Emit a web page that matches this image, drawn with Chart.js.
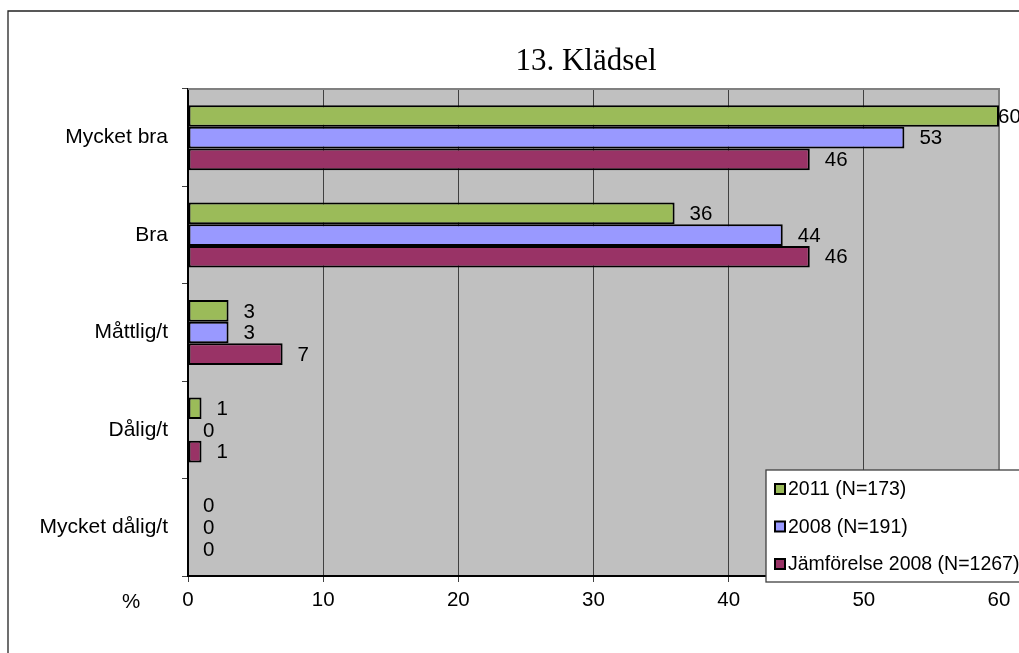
<!DOCTYPE html>
<html>
<head>
<meta charset="utf-8">
<title>13. Klädsel</title>
<script src="https://cdn.jsdelivr.net/npm/chart.js@4/dist/chart.umd.min.js"></script>
<style>
  html, body { margin: 0; padding: 0; background: #ffffff; overflow: hidden; }
  #wrap { position: relative; width: 1019px; height: 653px; }
  canvas { display: block; }
</style>
</head>
<body>
<div id="wrap"><canvas id="chart" width="1019" height="653"></canvas></div>
<script>
// Survey answers, percent of respondents
const categories = ['Mycket bra', 'Bra', 'Måttlig/t', 'Dålig/t', 'Mycket dålig/t'];
const values2011 = [60, 36, 3, 1, 0];
const values2008 = [53, 44, 3, 0, 0];
const valuesComparison = [46, 46, 7, 1, 0];
const seriesNames = ['2011 (N=173)', '2008 (N=191)', 'Jämförelse 2008 (N=1267)'];
const seriesColors = ['#9BBB59', '#9999FF', '#993366'];
const axisMin = 0;
const axisMax = 60;
const axisStep = 10;
const chartTitle = '13. Klädsel';
const axisUnit = '%';

const SANS = "'Liberation Sans', Arial, sans-serif";
const SERIF = "'Liberation Serif', 'Times New Roman', serif";

// Outer frame, plot background and plot border
const backdrop = {
  id: 'backdrop',
  beforeDraw(chart) {
    const { ctx, chartArea: a } = chart;
    ctx.save();
    ctx.fillStyle = '#ffffff';
    ctx.fillRect(0, 0, chart.width, chart.height);
    ctx.strokeStyle = '#222222';
    ctx.lineWidth = 1.3;
    ctx.beginPath();
    ctx.moveTo(8, chart.height + 5);
    ctx.lineTo(8, 11);
    ctx.lineTo(chart.width + 5, 11);
    ctx.stroke();
    ctx.fillStyle = '#C0C0C0';
    ctx.fillRect(a.left, a.top, a.right - a.left, a.bottom - a.top);
    ctx.restore();
  },
  beforeDatasetsDraw(chart) {
    const { ctx, chartArea: a } = chart;
    ctx.save();
    ctx.strokeStyle = '#808080';
    ctx.lineWidth = 2;
    ctx.beginPath();
    ctx.moveTo(a.left, a.top);
    ctx.lineTo(a.right, a.top);
    ctx.lineTo(a.right, a.bottom);
    ctx.stroke();
    ctx.restore();
  }
};

// Value labels next to each bar, title, unit label and legend box
const annotations = {
  id: 'annotations',
  afterDatasetsDraw(chart) {
    const { ctx, chartArea: a } = chart;
    ctx.save();
    ctx.font = '20.5px ' + SANS;
    ctx.fillStyle = '#000000';
    ctx.textAlign = 'left';
    ctx.textBaseline = 'middle';
    chart.data.datasets.forEach((ds, i) => {
      const meta = chart.getDatasetMeta(i);
      meta.data.forEach((bar, j) => {
        const x = Math.min(bar.x + 15, a.right - 1);
        ctx.fillText(String(ds.data[j]), x, bar.y + 1);
      });
    });
    ctx.restore();
  },
  afterDraw(chart) {
    const { ctx } = chart;
    ctx.save();
    // title
    ctx.font = '31px ' + SERIF;
    ctx.fillStyle = '#000000';
    ctx.textAlign = 'center';
    ctx.textBaseline = 'alphabetic';
    ctx.fillText(chartTitle, 586, 70);
    // unit
    ctx.font = '20.5px ' + SANS;
    ctx.textBaseline = 'middle';
    ctx.fillText(axisUnit, 131, 602);
    // legend
    const lx = 766, ly = 470, lw = 270, lh = 112;
    ctx.fillStyle = '#ffffff';
    ctx.fillRect(lx, ly, lw, lh);
    ctx.strokeStyle = '#404040';
    ctx.lineWidth = 1.3;
    ctx.strokeRect(lx, ly, lw, lh);
    ctx.font = '19.5px ' + SANS;
    ctx.textAlign = 'left';
    chart.data.datasets.forEach((ds, i) => {
      const cy = 489 + i * 37.5;
      ctx.fillStyle = ds.backgroundColor;
      ctx.fillRect(775, cy - 5, 10, 10);
      ctx.strokeStyle = '#000000';
      ctx.lineWidth = 2;
      ctx.strokeRect(775, cy - 5, 10, 10);
      ctx.fillStyle = '#000000';
      ctx.fillText(ds.label, 788, cy + 1);
    });
    ctx.restore();
  }
};

const datasets = [values2011, values2008, valuesComparison].map((vals, i) => ({
  label: seriesNames[i],
  data: vals,
  backgroundColor: seriesColors[i],
  borderColor: '#000000',
  borderWidth: 2,
  borderSkipped: false,
  categoryPercentage: 0.667,
  barPercentage: 1.0
}));

new Chart(document.getElementById('chart'), {
  type: 'bar',
  data: { labels: categories, datasets },
  options: {
    indexAxis: 'y',
    responsive: false,
    animation: false,
    devicePixelRatio: 1,
    layout: { padding: { left: 0, right: 20, top: 89, bottom: 0 } },
    plugins: {
      legend: { display: false },
      title: { display: false },
      tooltip: { enabled: false }
    },
    scales: {
      x: {
        min: axisMin,
        max: axisMax,
        afterFit(scale) { scale.height = 77; },
        ticks: {
          stepSize: axisStep,
          color: '#000000',
          font: { family: SANS, size: 20.5 },
          padding: 6
        },
        grid: {
          color: (c) => (c.tick && c.tick.value === axisMax) ? 'rgba(0,0,0,0)' : '#404040',
          lineWidth: 1,
          tickColor: '#404040',
          tickLength: 6,
          drawOnChartArea: true
        },
        border: { display: true, color: '#000000', width: 2 }
      },
      y: {
        afterFit(scale) { scale.width = 188; },
        ticks: {
          color: '#000000',
          font: { family: SANS, size: 21 },
          padding: 14
        },
        grid: {
          offset: true,
          drawOnChartArea: false,
          tickColor: '#404040',
          tickLength: 6
        },
        border: { display: true, color: '#000000', width: 2 }
      }
    }
  },
  plugins: [backdrop, annotations]
});
</script>
</body>
</html>
